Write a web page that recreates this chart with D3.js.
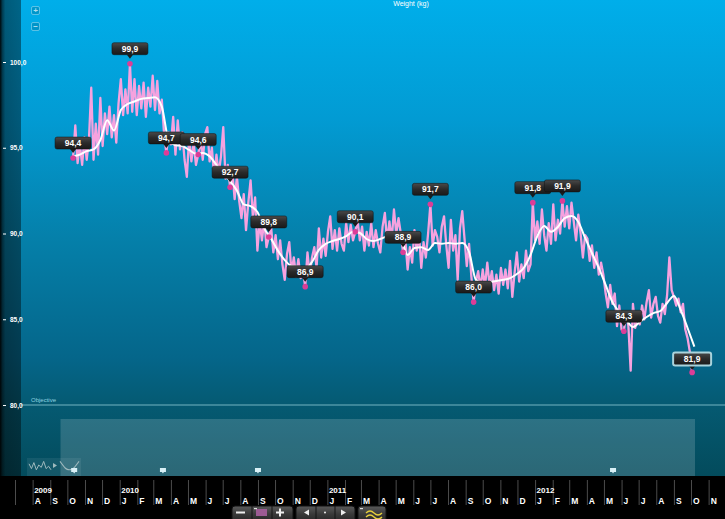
<!DOCTYPE html>
<html>
<head>
<meta charset="utf-8">
<script src="https://cdn.jsdelivr.net/npm/d3@7"></script>
<style>
    body { margin: 0; background: #000; }
    svg { display: block; font-family: "Liberation Sans", Arial, sans-serif; }
</style>
</head>
<body>
<script>
// daily scale readings, one kept every 4 days, starting on firstReading
const firstReading = "2009-10-11";
const readingStep = 4;
const readings = [
    94.4, 96.3, 94.1, 95.2, 94.0, 95.6, 94.3, 95.5, 98.5, 94.3, 96.4, 94.6, 97.9, 95.1, 97.0, 95.8, 97.4, 95.6, 96.9, 95.3, 97.6,
    99.0, 96.9, 98.4, 97.0, 99.9, 97.1, 99.0, 96.9, 98.6, 97.3, 98.8, 96.8, 98.5, 97.4, 99.2, 97.2, 98.9, 97.0, 97.8, 95.8, 94.7, 95.9,
    95.2, 96.8, 94.6, 96.6, 94.9, 95.9, 94.3, 93.3, 95.6, 94.2, 95.3, 94.0, 94.6, 95.5, 94.3, 95.8, 96.2, 94.2, 95.0, 93.3, 94.6, 93.5, 94.5, 96.2, 93.2, 94.0, 92.7, 93.6,
    92.0, 93.3, 91.9, 90.9, 92.3, 90.2, 91.8, 93.1, 91.0, 92.1, 89.0, 90.7, 89.6, 90.8, 89.2, 89.8, 90.4, 88.9, 89.9, 88.5, 89.6, 88.2, 87.3, 88.8, 89.5, 87.7, 88.6, 87.5, 88.5, 87.4, 87.9, 86.9, 88.9, 87.6, 88.6,
    89.2, 88.0, 90.3, 88.6, 89.7, 88.7, 90.1, 91.0, 89.1, 90.2, 89.0, 90.3, 89.4, 89.0, 90.6, 89.5, 90.5, 89.6, 90.1, 90.8, 89.6, 90.4, 89.0, 90.1, 89.3, 90.6, 89.2, 90.2, 89.4, 88.9, 90.4, 91.2, 89.5, 90.7, 89.6, 91.4, 90.0, 90.9, 90.0, 88.9, 89.6, 87.9, 89.2, 88.3, 90.2,
    89.0, 90.0, 88.0, 89.5, 88.6, 90.0, 91.7, 89.3, 90.2, 89.8, 88.9, 90.4, 91.0, 89.3, 88.0, 90.8, 89.0, 89.9, 87.3, 90.3, 91.3, 89.7, 88.1, 89.4, 87.5, 86.0, 87.2,
    87.8, 86.8, 87.9, 86.9, 88.3, 87.0, 87.8, 86.7, 87.6, 86.5, 88.0, 87.0, 87.9, 86.8, 88.4, 86.3, 87.7, 88.9, 87.2, 88.2, 87.4, 89.0, 87.8,
    88.2, 91.8, 89.6, 90.7, 89.4, 91.4, 89.9, 89.0, 90.6, 89.4, 91.7, 89.6, 90.8, 90.0, 91.9, 90.4, 91.6, 90.3, 91.8, 90.7, 89.6, 91.1, 90.0, 88.6, 89.9, 89.7, 88.4, 89.3, 88.0, 88.9, 87.6, 88.3, 87.6, 86.5, 85.7, 87.0, 85.9, 86.5, 84.6, 85.8,
    84.4, 84.3, 85.4, 84.6, 82.0, 85.9, 84.5, 85.3, 84.7, 85.8, 85.0, 86.0, 86.7, 85.1, 85.9, 86.3, 85.2, 84.8, 85.9, 85.3, 86.4, 88.6, 86.7, 86.3, 85.8, 86.2, 85.4, 85.9, 84.4, 83.9, 83.1, 81.9
];

// smoothed trend, one value every 12 days from the same start
const trendStep = 12;
const trend = [
    94.5, 94.6, 94.8, 94.9, 95.45, 96.6, 96.0, 97.2, 97.55, 97.7, 97.85, 97.9, 97.95, 97.4, 95.45, 95.15, 95.1, 94.87, 94.65, 94.7,
    94.5, 94.0, 93.5, 93.05, 92.5, 91.7, 91.6, 91.25, 90.3, 89.7, 89.0, 88.45, 88.1, 88.05, 87.93, 88.34, 89.04, 89.4, 89.56, 89.68,
    89.85, 90.1, 90.03, 89.68, 89.56, 89.68, 89.85, 90.03, 89.74, 88.75, 89.15, 89.2, 89.04, 89.45, 89.4, 89.45, 89.4, 89.45, 88.92, 87.3,
    87.1, 87.17, 87.23, 87.3, 87.4, 87.64, 87.99, 88.75, 89.85, 90.44, 90.1, 90.38, 90.9, 91.02, 90.67, 89.74, 88.86, 87.99, 87.0, 86.0,
    85.42, 84.96, 84.55, 84.84, 85.13, 85.36, 85.48, 85.95, 86.36, 85.54, 84.49, 83.4
];

// readings that carry a value bubble (index into readings)
const markedReadings = [0, 25, 41, 55, 69, 86, 102, 124, 145, 157, 176, 202, 215, 242, 272];
const noteDates = ["2009-10-13", "2010-03-18", "2010-09-01", "2012-05-17"];
const yTicks = [80, 85, 90, 95, 100];
const objective = 80;
const monthLetters = ["J", "F", "M", "A", "M", "J", "J", "A", "S", "O", "N", "D"];
const yearTicks = ["2009-08-01", "2010-01-01", "2011-01-01", "2012-01-01"];
const thumbJagged = [6, 2, 7, 1, 5, 3, 8, 2, 4, 1];
const thumbSmooth = [8, 5, 2, 1, 1, 2, 5, 8];

document.addEventListener("DOMContentLoaded", () => {
    const width = 725;
    const height = 519;
    const plotBottom = 476;

    const parse = d3.timeParse("%Y-%m-%d");
    const start = parse(firstReading);
    const readingData = readings.map((v, i) => ({ date: d3.timeDay.offset(start, i * readingStep), value: v }));
    const trendData = trend.map((v, i) => ({ date: d3.timeDay.offset(start, i * trendStep), value: v }));
    const fmt = v => v.toFixed(1).replace(".", ",");

    const xScale = d3.scaleTime()
        .domain([parse("2009-07-01"), parse("2012-12-01")])
        .range([15, 725.7]);

    const yScale = d3.scaleLinear()
        .domain([80, 100])
        .range([405, 62]);

    const svg = d3.select("body")
        .append("svg")
        .attr("width", width)
        .attr("height", height);

    const defs = svg.append("defs");

    const bg = defs.append("linearGradient").attr("id", "bg")
        .attr("x1", 0).attr("y1", 0).attr("x2", 0).attr("y2", 1);
    [[0, "#00aeea"], [0.25, "#029bd3"], [0.5, "#0580aa"], [0.75, "#05668a"], [0.85, "#055a72"], [1, "#034b5c"]]
        .forEach(s => bg.append("stop").attr("offset", s[0]).attr("stop-color", s[1]));

    const side = defs.append("linearGradient").attr("id", "side")
        .attr("x1", 0).attr("y1", 0).attr("x2", 1).attr("y2", 0);
    [[0, 0.95], [0.12, 0.65], [0.25, 0.48], [1, 0.42]]
        .forEach(s => side.append("stop").attr("offset", s[0]).attr("stop-color", "#000").attr("stop-opacity", s[1]));

    const bubble = defs.append("linearGradient").attr("id", "bubble")
        .attr("x1", 0).attr("y1", 0).attr("x2", 0).attr("y2", 1);
    [[0, "#4a4a4a"], [0.5, "#2a2a2a"], [1, "#1a1a1a"]]
        .forEach(s => bubble.append("stop").attr("offset", s[0]).attr("stop-color", s[1]));

    const btn = defs.append("linearGradient").attr("id", "btn")
        .attr("x1", 0).attr("y1", 0).attr("x2", 0).attr("y2", 1);
    [[0, "#5a5a5a"], [0.5, "#3a3a3a"], [1, "#262626"]]
        .forEach(s => btn.append("stop").attr("offset", s[0]).attr("stop-color", s[1]));

    // background
    svg.append("rect").attr("width", width).attr("height", plotBottom).attr("fill", "url(#bg)");
    svg.append("rect").attr("width", 21).attr("height", plotBottom).attr("fill", "url(#side)");
    svg.append("rect").attr("y", plotBottom).attr("width", width).attr("height", height - plotBottom).attr("fill", "#000");

    svg.append("text")
        .attr("x", 411).attr("y", 6)
        .attr("text-anchor", "middle")
        .style("font-size", "7px")
        .attr("fill", "#fff")
        .text("Weight (kg)");

    // objective
    svg.append("line")
        .attr("x1", 21).attr("x2", width)
        .attr("y1", yScale(objective)).attr("y2", yScale(objective))
        .attr("stroke", "#8fcbd6").attr("stroke-opacity", 0.8).attr("stroke-width", 1);

    svg.append("text")
        .attr("x", 31).attr("y", yScale(objective) - 3)
        .style("font-size", "6px")
        .attr("fill", "#8fd3e0")
        .text("Objective");

    // overview strip
    svg.append("rect")
        .attr("x", 60.5).attr("y", 419)
        .attr("width", 634.5).attr("height", plotBottom - 419)
        .attr("fill", "#fff").attr("fill-opacity", 0.16);

    svg.append("rect")
        .attr("x", 27).attr("y", 458)
        .attr("width", 54).attr("height", 18)
        .attr("fill", "#fff").attr("fill-opacity", 0.07);

    const tjx = d3.scaleLinear().domain([0, thumbJagged.length - 1]).range([29, 51]);
    const tsx = d3.scaleLinear().domain([0, thumbSmooth.length - 1]).range([60, 79]);
    const ty = d3.scaleLinear().domain([0, 10]).range([471, 459]);

    svg.append("path")
        .attr("d", d3.line().x((d, i) => tjx(i)).y(d => ty(d))(thumbJagged))
        .attr("fill", "none").attr("stroke", "#9fb9bd").attr("stroke-width", 1);

    svg.append("path")
        .attr("d", "M53,463 L57,465.5 L53,468 Z")
        .attr("fill", "#9fb9bd");

    svg.append("path")
        .attr("d", d3.line().curve(d3.curveBasis).x((d, i) => tsx(i)).y(d => ty(d))(thumbSmooth))
        .attr("fill", "none").attr("stroke", "#9fb9bd").attr("stroke-width", 1.2);

    svg.selectAll(".note")
        .data(noteDates)
        .enter()
        .append("path")
        .attr("class", "note")
        .attr("transform", d => `translate(${xScale(parse(d))},471)`)
        .attr("d", "M-3,-3 h6 v4 h-2 l-1,1.5 l-1,-1.5 h-2 Z")
        .attr("fill", "#d8f0f6");

    // y axis
    const yAxis = d3.axisRight(yScale)
        .tickValues(yTicks)
        .tickSize(3)
        .tickPadding(4)
        .tickFormat(fmt);

    const yg = svg.append("g")
        .attr("transform", "translate(3,0)")
        .call(yAxis);
    yg.select(".domain").remove();
    yg.selectAll("line").attr("stroke", "#fff");
    yg.selectAll("text")
        .attr("fill", "#fff")
        .style("font-size", "6.5px")
        .style("font-weight", "bold")
        .style("font-family", "Liberation Sans, Arial, sans-serif");

    // raw readings and trend
    svg.append("path")
        .datum(readingData)
        .attr("d", d3.line().x(d => xScale(d.date)).y(d => yScale(d.value)))
        .attr("fill", "none")
        .attr("stroke", "#f6a2df")
        .attr("stroke-width", 2.3)
        .attr("stroke-linejoin", "round");

    svg.append("path")
        .datum(trendData)
        .attr("d", d3.line().curve(d3.curveMonotoneX).x(d => xScale(d.date)).y(d => yScale(d.value)))
        .attr("fill", "none")
        .attr("stroke", "#fff")
        .attr("stroke-width", 2);

    // value bubbles
    const marks = markedReadings.map((idx, n) => ({
        d: readingData[idx],
        last: n === markedReadings.length - 1
    }));

    svg.selectAll(".dot")
        .data(marks)
        .enter()
        .append("circle")
        .attr("class", "dot")
        .attr("cx", m => xScale(m.d.date))
        .attr("cy", m => yScale(m.d.value))
        .attr("r", 2.8)
        .attr("fill", "#dc3d97");

    const tips = svg.selectAll(".tip")
        .data(marks)
        .enter()
        .append("g")
        .attr("class", "tip")
        .attr("transform", m => `translate(${xScale(m.d.date)},${yScale(m.d.value)})`);

    tips.append("path")
        .attr("d", m => m.last ? "M-3.5,-7 L0,-2.5 L3.5,-7 Z" : "M-3,-9 L0,-5 L3,-9 Z")
        .attr("fill", "#1c1c1c");

    tips.append("rect")
        .attr("x", m => m.last ? -19 : -18)
        .attr("y", m => m.last ? -20 : -21)
        .attr("width", m => m.last ? 38 : 36)
        .attr("height", m => m.last ? 13 : 12)
        .attr("rx", 2)
        .attr("fill", "url(#bubble)")
        .attr("stroke", m => m.last ? "#a9d3dc" : "#111")
        .attr("stroke-width", m => m.last ? 2 : 0.5);

    tips.append("text")
        .attr("y", m => m.last ? -10.5 : -12)
        .attr("text-anchor", "middle")
        .style("font-size", "8.5px")
        .style("font-weight", "bold")
        .attr("fill", "#fff")
        .text(m => fmt(m.d.value));

    // month / year axis
    const xAxis = d3.axisBottom(xScale)
        .tickValues(d3.timeMonth.range(parse("2009-07-01"), parse("2012-12-01")))
        .tickSize(25)
        .tickFormat(d => d < parse("2009-08-01") ? "" : monthLetters[d.getMonth()]);

    const xg = svg.append("g")
        .attr("transform", "translate(0,480)")
        .call(xAxis);
    xg.select(".domain").remove();
    xg.selectAll("line").attr("stroke", "#4c4c4c");
    xg.selectAll("text")
        .attr("x", 1.5).attr("y", 24).attr("dy", null)
        .attr("text-anchor", "start")
        .attr("fill", "#fff")
        .style("font-size", "8.5px")
        .style("font-weight", "bold")
        .style("font-family", "Liberation Sans, Arial, sans-serif");

    const yearAxis = d3.axisBottom(xScale)
        .tickValues(yearTicks.map(parse))
        .tickSize(0)
        .tickFormat(d3.timeFormat("%Y"));

    const yearG = svg.append("g")
        .attr("transform", "translate(0,480)")
        .call(yearAxis);
    yearG.select(".domain").remove();
    yearG.selectAll("text")
        .attr("x", 1).attr("y", 13).attr("dy", null)
        .attr("text-anchor", "start")
        .attr("fill", "#fff")
        .style("font-size", "8px")
        .style("font-weight", "bold")
        .style("font-family", "Liberation Sans, Arial, sans-serif");

    // bottom buttons
    function group(x0, w, seps) {
        svg.append("rect")
            .attr("x", x0).attr("y", 506)
            .attr("width", w).attr("height", 16)
            .attr("rx", 3)
            .attr("fill", "url(#btn)")
            .attr("stroke", "#111");
        seps.forEach(s => svg.append("line")
            .attr("x1", s).attr("x2", s).attr("y1", 506).attr("y2", 519)
            .attr("stroke", "#151515"));
    }

    group(232, 61, [252, 272]);
    svg.append("rect").attr("x", 236).attr("y", 511.5).attr("width", 9).attr("height", 2).attr("fill", "#eee");
    svg.append("rect").attr("x", 256).attr("y", 509).attr("width", 11).attr("height", 7).attr("fill", "#9c5b93");
    svg.append("rect").attr("x", 254).attr("y", 508).attr("width", 3).attr("height", 1.2).attr("fill", "#ddd");
    svg.append("rect").attr("x", 276).attr("y", 511.5).attr("width", 8).attr("height", 2).attr("fill", "#eee");
    svg.append("rect").attr("x", 279).attr("y", 508.5).attr("width", 2).attr("height", 8).attr("fill", "#eee");

    group(296, 59, [316, 335]);
    svg.append("path").attr("d", "M304,512.5 L309,509.5 L309,515.5 Z").attr("fill", "#eee");
    svg.append("circle").attr("cx", 325).attr("cy", 512.5).attr("r", 1).attr("fill", "#eee");
    svg.append("path").attr("d", "M346,512.5 L341,509.5 L341,515.5 Z").attr("fill", "#eee");

    group(358, 28, []);
    svg.append("rect").attr("x", 360).attr("y", 508).attr("width", 3).attr("height", 1.2).attr("fill", "#ddd");
    svg.append("path").attr("d", "M366,513 q4,-4 8,0 t8,0").attr("fill", "none").attr("stroke", "#e6cf3c").attr("stroke-width", 1.3);
    svg.append("path").attr("d", "M366,517 q4,-4 8,0 t8,0").attr("fill", "none").attr("stroke", "#e6cf3c").attr("stroke-width", 1.3);

    // zoom buttons
    [["+", 6], ["−", 22]].forEach(b => {
        svg.append("rect")
            .attr("x", 31.5).attr("y", b[1] + 0.5)
            .attr("width", 8).attr("height", 8)
            .attr("rx", 1.5)
            .attr("fill", "#000").attr("fill-opacity", 0.12)
            .attr("stroke", "#fff").attr("stroke-opacity", 0.35);
        svg.append("text")
            .attr("x", 35.5).attr("y", b[1] + 7.3)
            .attr("text-anchor", "middle")
            .style("font-size", "8px")
            .style("font-weight", "bold")
            .attr("fill", "#fff").attr("fill-opacity", 0.7)
            .text(b[0]);
    });
});
</script>
</body>
</html>
